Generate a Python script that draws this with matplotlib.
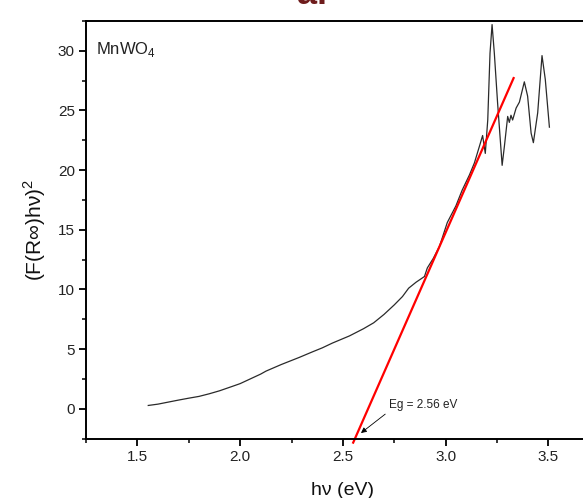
import matplotlib
matplotlib.use("Agg")
import matplotlib.pyplot as plt
from matplotlib.ticker import MultipleLocator

plt.rcParams['font.family'] = ['Liberation Sans', 'DejaVu Sans']
plt.rcParams['mathtext.fontset'] = 'custom'
plt.rcParams['mathtext.rm'] = 'Liberation Sans'

# Data
hv = [1.553, 1.60, 1.65, 1.70, 1.75, 1.80, 1.85, 1.90, 1.962, 2.00, 2.05, 2.10,
      2.126, 2.20, 2.288, 2.35, 2.40, 2.449, 2.532, 2.60, 2.65, 2.70, 2.75, 2.79,
      2.82, 2.856, 2.897, 2.911, 2.94, 2.97, 3.008, 3.05, 3.08, 3.116, 3.14, 3.164,
      3.18, 3.193, 3.205, 3.216, 3.226, 3.237, 3.253, 3.267, 3.275, 3.286, 3.302,
      3.31, 3.318, 3.326, 3.343, 3.359, 3.383, 3.399, 3.416, 3.427, 3.448, 3.469,
      3.485, 3.505]
fr = [0.27, 0.38, 0.55, 0.72, 0.88, 1.03, 1.25, 1.5, 1.87, 2.1, 2.5, 2.9,
      3.15, 3.7, 4.3, 4.75, 5.1, 5.5, 6.1, 6.7, 7.2, 7.9, 8.7, 9.4,
      10.1, 10.6, 11.08, 11.8, 12.6, 13.6, 15.6, 17.0, 18.3, 19.6, 20.6, 21.97,
      22.9, 21.4, 24.2, 29.8, 32.2, 29.8, 25.6, 22.3, 20.4, 22.0, 24.5,
      24.0, 24.6, 24.2, 25.2, 25.7, 27.4, 26.2, 23.1, 22.3, 24.8, 29.6,
      27.6, 23.6]

fit_x = [2.548, 3.333]
fit_y = [-2.93, 27.8]

eg_label = "Eg = 2.56 eV"
eg_arrow_head = (2.588, -2.04)
eg_text_pos = (2.725, 0.3)

sample = "MnWO$_\\mathregular{4}$"

fig = plt.figure(figsize=(5.83, 4.98), dpi=100)
ax = fig.add_axes([86/583, 59.5/498, 513.75/583, 417.5/498])

ax.plot(hv, fr, color='#2a2a2a', lw=0.9)
ax.plot(fit_x, fit_y, color='#ff0000', lw=1.6, clip_on=False, solid_capstyle='butt')

ax.annotate(eg_label, xy=eg_arrow_head, xytext=eg_text_pos,
            fontsize=8.5, color='#222222', ha='left', va='center',
            arrowprops=dict(arrowstyle='-|>', color='black', lw=0.6,
                            mutation_scale=8, shrinkA=1, shrinkB=0,
                            relpos=(0.0, 0.0)))

ax.text(0.02, 0.955, sample, transform=ax.transAxes, fontsize=12,
        ha='left', va='top', color='#222222')

ax.set_xlim(1.25, 3.75)
ax.set_ylim(-2.5, 32.5)
ax.xaxis.set_major_locator(MultipleLocator(0.5))
ax.xaxis.set_minor_locator(MultipleLocator(0.25))
ax.yaxis.set_major_locator(MultipleLocator(5))
ax.yaxis.set_minor_locator(MultipleLocator(2.5))
ax.set_xticks([1.5, 2.0, 2.5, 3.0, 3.5])
ax.set_yticks([0, 5, 10, 15, 20, 25, 30])

for s in ax.spines.values():
    s.set_linewidth(1.4)
ax.tick_params(which='major', direction='out', length=5, width=1.3,
               labelsize=11, labelcolor='#222222', pad=3)
ax.tick_params(which='minor', direction='out', length=3, width=1.1)

ax.set_xlabel("h\u03bd (eV)", fontsize=14, labelpad=13, color='#111111')
ax.set_ylabel("(F(R\u221e)h\u03bd)$^\\mathregular{2}$", fontsize=15, labelpad=7,
              color='#111111')

fig.text(297/583, 1 - 4/498, "al", fontsize=26, fontweight='bold',
         color='#6e1c1c', ha='left', va='baseline')

fig.savefig("out.png", dpi=100)
